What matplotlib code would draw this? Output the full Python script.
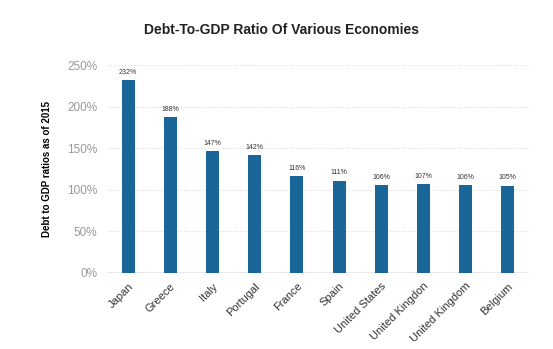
import numpy as np
import matplotlib.pyplot as plt
from matplotlib.ticker import FuncFormatter

plt.rcParams['font.family'] = ['Liberation Sans', 'DejaVu Sans']

countries = ['Japan', 'Greece', 'Italy', 'Portugal', 'France', 'Spain',
             'United States', 'United Kingdon', 'United Kingdom', 'Belgium']
ratios = [232, 188, 147, 142, 116, 111, 106, 107, 106, 105]
yticks = [0, 50, 100, 150, 200, 250]

fig = plt.figure(figsize=(5.53, 3.49), dpi=100)
ax = fig.add_axes([0.1935, 0.2186, 0.763, 0.5943])

x = np.arange(len(countries))
ax.bar(x, ratios, width=0.31, color='#1b6699', zorder=3)

# value labels above bars
for xi, v in zip(x, ratios):
    ax.text(xi, v + 5, f'{v}%', ha='center', va='bottom', fontsize=5, color='#333333')

ax.set_xlim(-0.5, len(countries) - 0.5)
ax.set_ylim(0, 250)
ax.set_yticks(yticks)
ax.yaxis.set_major_formatter(FuncFormatter(lambda v, p: f'{v:.0f}%'))
ax.grid(axis='y', color='#dddddd', linestyle=':', linewidth=0.8, zorder=0)
ax.axhline(0, color='#e3e3e3', linewidth=1.2, zorder=2)

ax.set_xticks(x)
ax.set_xticklabels(countries, rotation=45, ha='right', va='top', rotation_mode='anchor',
                   fontsize=8, color='#333333')
ax.tick_params(axis='y', labelsize=8.5, colors='#999999', length=0, pad=7)
ax.tick_params(axis='x', length=0, pad=6)
for s in ax.spines.values():
    s.set_visible(False)

ax.set_ylabel('Debt to GDP ratios as of 2015', fontsize=7, fontweight='bold', labelpad=11)
fig.text(0.509, 0.914, 'Debt-To-GDP Ratio Of Various Economies', ha='center', va='center',
         fontsize=10, fontweight='bold', color='#222222')

plt.savefig('out.png', dpi=100)
